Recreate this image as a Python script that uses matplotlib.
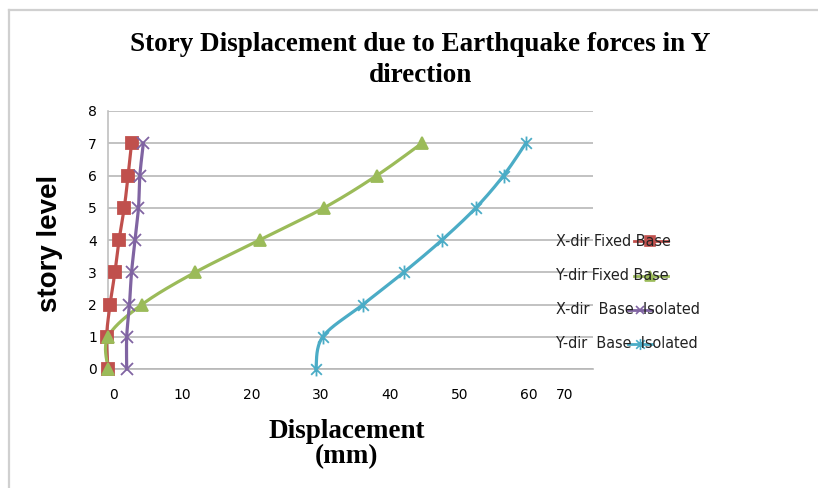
import numpy as np
import matplotlib
matplotlib.use('Agg')
import matplotlib.pyplot as plt
from matplotlib.lines import Line2D
from matplotlib.path import Path
from matplotlib.transforms import ScaledTranslation

# data
levels = [0, 1, 2, 3, 4, 5, 6, 7]
x_fixed = [0.0, -0.2, 0.3, 1.0, 1.6, 2.35, 2.9, 3.4]
y_fixed = [0.0, 0.0, 4.9, 12.6, 21.9, 31.2, 38.8, 45.3]
x_iso = [2.7, 2.7, 3.1, 3.4, 3.9, 4.4, 4.6, 5.1]
y_iso = [30.0, 31.0, 36.8, 42.7, 48.2, 53.1, 57.1, 60.3]
names = ['X-dir Fixed Base', 'Y-dir Fixed Base', 'X-dir  Base  Isolated', 'Y-dir  Base  Isolated']
colors = ['#C0504D', '#9BBB59', '#8064A2', '#4BACC6']

xstar = Path([(-1, -1), (1, 1), (-1, 1), (1, -1), (0, -1.3), (0, 1.3)],
             [Path.MOVETO, Path.LINETO, Path.MOVETO, Path.LINETO, Path.MOVETO, Path.LINETO])
markers = ['s', '^', 'x', xstar]
msizes = [9, 9, 8, 10]


def smooth(xs, ys, n=20):
    # Catmull-Rom through the points, like Excel's smoothed line
    p = np.column_stack([xs, ys]).astype(float)
    p = np.vstack([p[0], p, p[-1]])
    out = []
    t = np.linspace(0, 1, n, endpoint=False)[:, None]
    for i in range(1, len(p) - 2):
        p0, p1, p2, p3 = p[i - 1], p[i], p[i + 1], p[i + 2]
        seg = 0.5 * ((2 * p1) + (-p0 + p2) * t + (2 * p0 - 5 * p1 + 4 * p2 - p3) * t ** 2
                     + (-p0 + 3 * p1 - 3 * p2 + p3) * t ** 3)
        out.append(seg)
    out.append(p[-2][None, :])
    out = np.vstack(out)
    return out[:, 0], out[:, 1]


fig = plt.figure(figsize=(8.18, 4.88), dpi=100)
ax = fig.add_axes([108 / 818, 1 - 369 / 488, (593 - 108) / 818, (369 - 111) / 488])

series = [x_fixed, y_fixed, x_iso, y_iso]
for vals, c, m, ms in zip(series, colors, markers, msizes):
    sx, sy = smooth(vals, levels)
    ax.plot(sx, sy, color=c, lw=2.3, clip_on=False, zorder=3)
    ax.plot(vals, levels, ls='none', marker=m, ms=ms, color=c, mec=c, mew=1.3,
            clip_on=False, zorder=4)

ax.set_xlim(0, 70)
ax.set_ylim(0, 8)
ax.set_xticks(range(0, 71, 10))
ax.set_yticks(range(0, 9))
ax.grid(axis='y', color='#b8b8b8', lw=1.2)
ax.set_axisbelow(True)
for s in ['top', 'right']:
    ax.spines[s].set_visible(False)
ax.spines['left'].set_color('#c0c0c0')
ax.spines['bottom'].set_color('#b8b8b8')
ax.spines['left'].set_linewidth(1.2)
ax.spines['bottom'].set_linewidth(1.2)
ax.tick_params(length=0, labelsize=10, pad=14)
ax.tick_params(axis='y', pad=8)
for i, lab in enumerate(ax.get_xticklabels()):
    dx = -28 if i == 7 else 5
    lab.set_transform(lab.get_transform() + ScaledTranslation(dx / 100, 0, fig.dpi_scale_trans))

# legend drawn by hand, sample over the text as in the original
leg_y = [241, 276, 310, 344]
samples = [(634, 668, 650), (634, 668, 650), (628, 652, 640), (628, 652, 640)]
for name, c, m, ms, yp, (x0, x1, xm) in zip(names, colors, markers, msizes, leg_y, samples):
    fy = 1 - yp / 488
    fig.text(556 / 818, fy, name, fontsize=11.5, va='center', ha='left', color='#222222',
             fontstretch='condensed')
    fig.add_artist(Line2D([x0 / 818, x1 / 818], [fy, fy], color=c, lw=2.0))
    fig.add_artist(Line2D([xm / 818], [fy], color=c, marker=m, ms=ms - 2, mec=c, mew=1.2))

fig.text(420 / 818, 1 - 60 / 488, 'Story Displacement due to Earthquake forces in Y\ndirection',
         ha='center', va='center', fontsize=19.5, fontweight='bold', family='Liberation Serif',
         linespacing=1.3)
fig.text(347 / 818, 1 - 444 / 488, 'Displacement\n(mm)', ha='center', va='center',
         fontsize=19.5, fontweight='bold', family='Liberation Serif', linespacing=1.05)
fig.text(50 / 818, 1 - 243 / 488, 'story level', rotation=90, ha='center', va='center',
         fontsize=20, fontweight='bold', family='Liberation Sans')

# outer chart frame
fig.add_artist(Line2D([9 / 818, 9 / 818], [0, 1 - 10 / 488], color='#d0d0d0', lw=1.6))
fig.add_artist(Line2D([9 / 818, 1], [1 - 10 / 488, 1 - 10 / 488], color='#d0d0d0', lw=1.6))

fig.savefig('out.png', dpi=100)
